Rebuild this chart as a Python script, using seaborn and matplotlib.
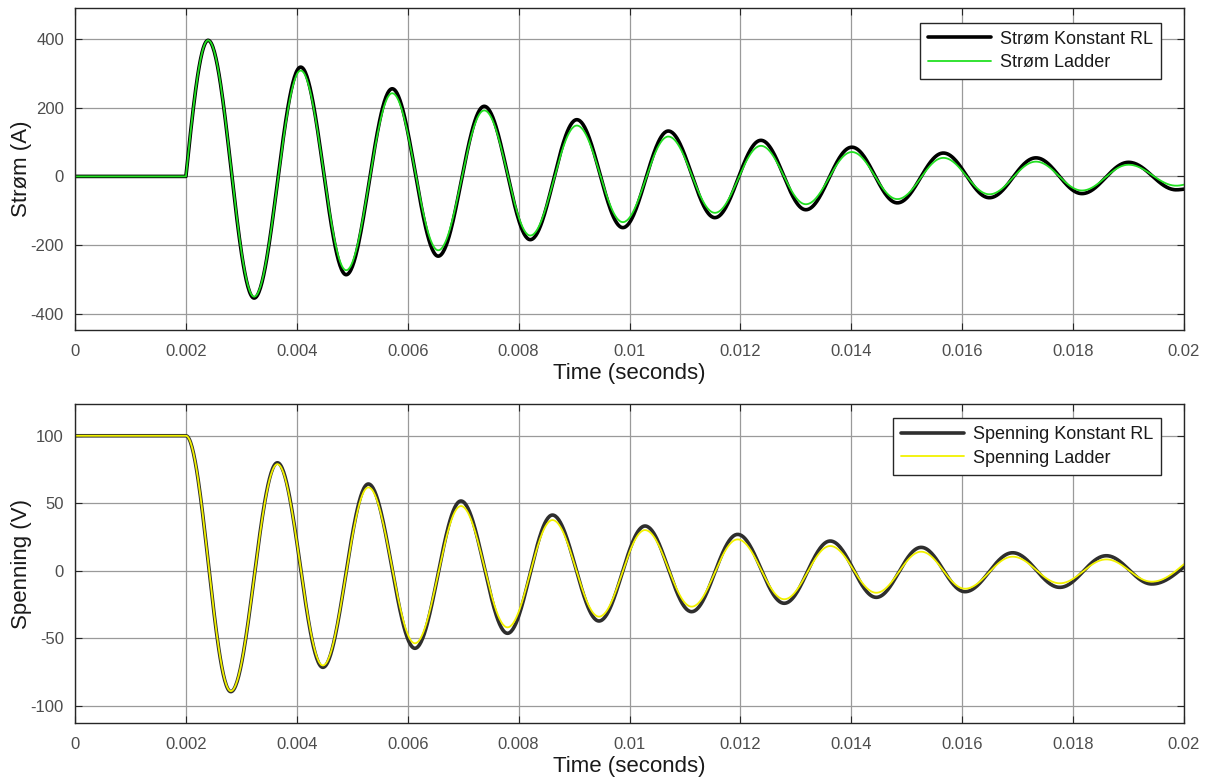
import numpy as np
import pandas as pd
import matplotlib
matplotlib.use("Agg")
import matplotlib.pyplot as plt
import seaborn as sns

# Extremum points of the current response (s, A)
t_current = [0.0, 0.0020, 0.00240, 0.00323, 0.00407, 0.00489, 0.00572, 0.00655,
             0.00738, 0.00821, 0.00905, 0.00988, 0.01070, 0.01154, 0.01237,
             0.01318, 0.01401, 0.01483, 0.01566, 0.01649, 0.01733, 0.01816,
             0.01900, 0.01986, 0.0200]
i_konstant_rl = [0, 0, 396, -354, 318, -286, 255, -232, 204, -184, 165, -149,
                 132, -120, 105, -97, 85, -77, 68, -62, 54, -50, 41, -39, -37]
i_ladder = [0, 0, 396, -350, 308, -273, 242, -215, 192, -172, 148, -133,
            116, -106, 89, -81, 71, -66, 54, -52, 43, -41, 34, -27, -24]

# Extremum points of the voltage response (s, V)
t_voltage = [0.0, 0.0020, 0.00281, 0.00365, 0.00447, 0.00529, 0.00613, 0.00696,
             0.00780, 0.00861, 0.00945, 0.01028, 0.01112, 0.01195, 0.01279,
             0.01362, 0.01445, 0.01526, 0.01605, 0.01691, 0.01776, 0.01860,
             0.01942, 0.0200]
v_konstant_rl = [100, 100, -89.4, 80, -71.4, 64.3, -57.3, 51.7, -46.2, 41.3,
                 -37.1, 33.2, -30.2, 27, -24, 22.1, -19.6, 17.4, -15.4, 13.4,
                 -12.2, 11.2, -9.7, 3]
v_ladder = [100, 100, -89, 79, -70, 61.8, -53.6, 48, -41.8, 37.6, -33.9,
            30.2, -26.5, 23.3, -21, 18.4, -16.2, 14.2, -13.2, 10.5, -9.2,
            8.5, -8, 5]

x_ticks = [0, 0.002, 0.004, 0.006, 0.008, 0.01, 0.012, 0.014, 0.016, 0.018, 0.02]
x_ticklabels = ["0", "0.002", "0.004", "0.006", "0.008", "0.01", "0.012",
                "0.014", "0.016", "0.018", "0.02"]


def trace(times, values, sharp_start_idx=None, n=60):
    """Join consecutive extrema with half-cosine arcs (sine for a kinked
    onset, quarter arc for the open end of the record)."""
    ts, ys = [], []
    last = len(times) - 2
    for k in range(len(times) - 1):
        t0, t1 = times[k], times[k + 1]
        y0, y1 = values[k], values[k + 1]
        s = np.linspace(0, 1, n)
        if k == sharp_start_idx:
            w = np.sin(np.pi / 2 * s)
        elif k == last:
            w = 1 - np.cos(np.pi / 2 * s)
        else:
            w = (1 - np.cos(np.pi * s)) / 2
        ts.append(t0 + (t1 - t0) * s)
        ys.append(y0 + (y1 - y0) * w)
    return np.concatenate(ts), np.concatenate(ys)


sns.set_theme(style="white")
plt.rcParams["font.family"] = ["Liberation Sans", "DejaVu Sans"]

fig = plt.figure(figsize=(12.1, 7.78), dpi=100)
ax1 = fig.add_axes([0.062, 0.5758, 0.9165, 0.4139])
ax2 = fig.add_axes([0.062, 0.0707, 0.9165, 0.4100])

tc, yc_rl = trace(t_current, i_konstant_rl, sharp_start_idx=1)
_, yc_ld = trace(t_current, i_ladder, sharp_start_idx=1)
df_i = pd.concat([
    pd.DataFrame({"t": tc, "y": yc_rl, "serie": "Strøm Konstant RL"}),
    pd.DataFrame({"t": tc, "y": yc_ld, "serie": "Strøm Ladder"}),
])

tv, yv_rl = trace(t_voltage, v_konstant_rl)
_, yv_ld = trace(t_voltage, v_ladder)
df_v = pd.concat([
    pd.DataFrame({"t": tv, "y": yv_rl, "serie": "Spenning Konstant RL"}),
    pd.DataFrame({"t": tv, "y": yv_ld, "serie": "Spenning Ladder"}),
])

sns.lineplot(data=df_i, x="t", y="y", hue="serie", size="serie",
             palette={"Strøm Konstant RL": "#000000", "Strøm Ladder": "#22e022"},
             sizes={"Strøm Konstant RL": 2.6, "Strøm Ladder": 1.3},
             estimator=None, sort=False, ax=ax1)
sns.lineplot(data=df_v, x="t", y="y", hue="serie", size="serie",
             palette={"Spenning Konstant RL": "#2e2e2e", "Spenning Ladder": "#f2f200"},
             sizes={"Spenning Konstant RL": 2.6, "Spenning Ladder": 1.3},
             estimator=None, sort=False, ax=ax2)

tick_color = "#4d4d4d"
for ax, ylim, yticks, ylabel in [
    (ax1, (-447, 490), [-400, -200, 0, 200, 400], "Strøm (A)"),
    (ax2, (-112.6, 123.5), [-100, -50, 0, 50, 100], "Spenning (V)"),
]:
    ax.set_xlim(0, 0.02)
    ax.set_ylim(*ylim)
    ax.set_xticks(x_ticks)
    ax.set_xticklabels(x_ticklabels)
    ax.set_yticks(yticks)
    ax.set_yticklabels([str(v) for v in yticks])
    ax.grid(True, color="#9a9a9a", linewidth=0.9)
    ax.set_axisbelow(True)
    for sp in ax.spines.values():
        sp.set_color("#262626")
        sp.set_linewidth(1.0)
    ax.tick_params(direction="in", length=5, width=0.8, color="#262626",
                   labelcolor=tick_color, labelsize=12, top=True, right=True,
                   bottom=True, left=True, pad=8)
    ax.tick_params(axis="x", pad=10)
    ax.set_xlabel("Time (seconds)", fontsize=16, color="#1a1a1a", labelpad=3)
    ax.set_ylabel(ylabel, fontsize=16, color="#1a1a1a", labelpad=-1)
    leg = ax.legend(loc="upper right", bbox_to_anchor=(0.9795, 0.955),
                    fontsize=13, frameon=True, fancybox=False,
                    edgecolor="#262626", framealpha=1, handlelength=3.5,
                    borderaxespad=0.0, labelspacing=0.35, handletextpad=0.5,
                    borderpad=0.45)
    leg.get_frame().set_linewidth(1.0)
    for txt in leg.get_texts():
        txt.set_color("#1a1a1a")

fig.savefig("out.png", dpi=100, facecolor="white")
